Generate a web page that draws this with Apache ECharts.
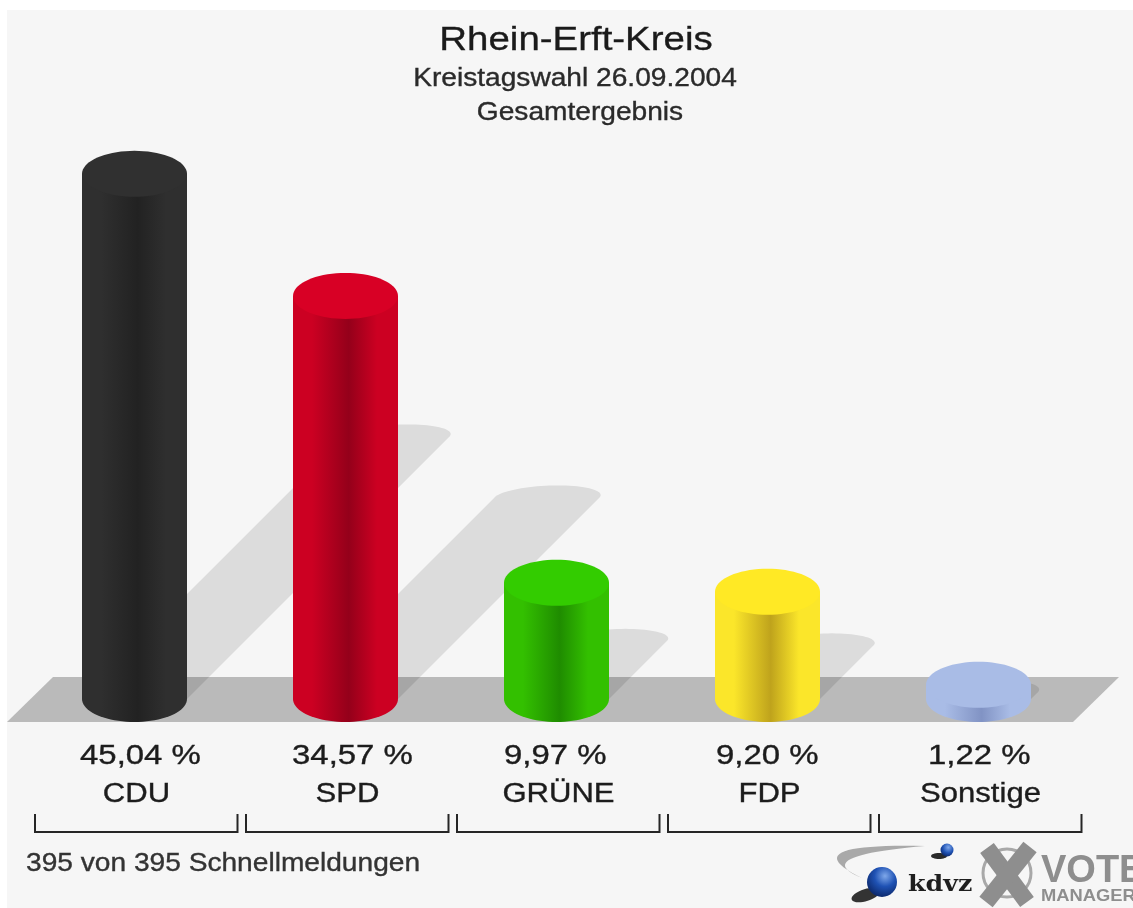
<!DOCTYPE html>
<html>
<head>
<meta charset="utf-8">
<style>
html,body{margin:0;padding:0;background:#fff;}
#c{width:1133px;height:908px;filter:blur(0.5px);}
</style>
<script src="https://cdn.jsdelivr.net/npm/echarts@6/dist/echarts.min.js"></script>
</head>
<body>
<div id="c"></div>
<script>
const categories = ['CDU', 'SPD', 'GRÜNE', 'FDP', 'Sonstige'];
const shares = [45.04, 34.57, 9.97, 9.20, 1.22];
const shareLabels = ['45,04 %', '34,57 %', '9,97 %', '9,20 %', '1,22 %'];
const topColors = ['#303030', '#d80025', '#33cc00', '#ffe925', '#a9bce6'];
const edgeColors = ['#2f2f2f', '#cc0022', '#33c000', '#fbe62a', '#a9bce6'];
const coreColors = ['#222222', '#94001a', '#1f8c00', '#bfa31c', '#8193c4'];
const titleText = 'Rhein-Erft-Kreis';
const subtitleText = 'Kreistagswahl 26.09.2004';
const scopeText = 'Gesamtergebnis';
const footerText = '395 von 395 Schnellmeldungen';

const FONT = '"Liberation Sans", Arial, sans-serif';
const HALF = 52.5, RY = 23, FOOT = 23;

function arc(cx, cy, a, b, from, to, n) {
  const pts = [];
  for (let i = 0; i <= n; i++) {
    const t = from + (to - from) * i / n;
    pts.push([cx + a * Math.cos(t), cy + b * Math.sin(t)]);
  }
  return pts;
}
function crescent(p0, p1, c1, c2) {
  const pts = [];
  for (let i = 0; i <= 24; i++) {
    const t = i / 24, u = 1 - t;
    pts.push([u*u*p0[0] + 2*u*t*c1[0] + t*t*p1[0], u*u*p0[1] + 2*u*t*c1[1] + t*t*p1[1]]);
  }
  for (let i = 24; i >= 0; i--) {
    const t = i / 24, u = 1 - t;
    pts.push([u*u*p0[0] + 2*u*t*c2[0] + t*t*p1[0], u*u*p0[1] + 2*u*t*c2[1] + t*t*p1[1]]);
  }
  return pts;
}
/* Stretched text element: the reference's lettering is wider than the installed face. */
function label(text, x, y, size, sx, fill, align, extra) {
  return Object.assign({
    type: 'text', scaleX: sx, x: x, y: y,
    style: { text: text, x: 0, y: 0, fill: fill, font: size + 'px ' + FONT, textAlign: align, textVerticalAlign: 'middle', stroke: fill, lineWidth: 0.35 }
  }, extra || {});
}

function renderShadow(params, api) {
  const top = api.coord([api.value(0), api.value(1)]);
  const base = api.coord([api.value(0), 0]);
  const s = (base[1] - top[1]) / 2;
  const cx = base[0] + s, cy = base[1] - s, b = 12, k = 0.9;
  const cap = [];
  for (let i = 0; i <= 40; i++) {
    const t = Math.PI * (1 - i / 40);
    cap.push([cx + HALF * Math.cos(t) + k * b * Math.sin(t), cy - b * Math.sin(t)]);
  }
  const pts = [[base[0] - HALF, base[1]]].concat(cap, [[base[0] + HALF, base[1]]]);
  return { type: 'polygon', shape: { points: pts }, style: { fill: 'rgba(0,0,0,0.105)' }, silent: true };
}

function renderCylinder(params, api) {
  const i = api.value(0);
  const top = api.coord([i, api.value(1)]);
  const base = api.coord([i, 0]);
  const x = base[0];
  const body = [[x - HALF, top[1]]].concat(
    [[x + HALF, top[1]]],
    arc(x, base[1], HALF, FOOT, 0, Math.PI, 40)
  );
  const fill = new echarts.graphic.LinearGradient(0, 0, 1, 0, [
    { offset: 0, color: edgeColors[i] },
    { offset: 0.18, color: edgeColors[i] },
    { offset: 0.53, color: coreColors[i] },
    { offset: 0.8, color: edgeColors[i] },
    { offset: 1, color: edgeColors[i] }
  ]);
  return {
    type: 'group',
    children: [
      { type: 'polygon', shape: { points: body }, style: { fill: fill } },
      { type: 'polygon', shape: { points: arc(x, top[1], HALF, RY, 0, Math.PI * 2, 72) }, style: { fill: topColors[i] } }
    ]
  };
}

function renderCaption(params, api) {
  const i = api.value(0);
  const x = api.coord([i, 0])[0];
  const L = x - 99.5, R = x + 103;
  return {
    type: 'group',
    children: [
      label(shareLabels[i], x - 54.5 + i, 757, 27, 1.22, '#1c1c1c', 'left'),
      label(categories[i], x + 2, 795, 27, 1.15, '#1c1c1c', 'center'),
      { type: 'polyline', shape: { points: [[L, 814], [L, 832], [R, 832], [R, 814]] }, style: { stroke: '#262626', lineWidth: 2, fill: 'none' } }
    ]
  };
}

const rows = shares.map((v, i) => [i, v]);
const chart = echarts.init(document.getElementById('c'), null, { renderer: 'canvas', width: 1133, height: 908 });
const GRAY = '#8e8e8e';

chart.setOption({
  animation: false,
  backgroundColor: '#ffffff',
  tooltip: { show: false },
  grid: { left: 29, top: 116, width: 1055, height: 583 },
  xAxis: { type: 'category', data: categories, show: false },
  yAxis: { type: 'value', min: 0, max: 50, show: false },
  graphic: { elements: [
    { type: 'rect', z: -10, shape: { x: 7, y: 10, width: 1126, height: 898 }, style: { fill: '#f6f6f6' }, silent: true },
    { type: 'polygon', z: -5, shape: { points: [[7, 722], [53, 677], [1119, 677], [1073, 722]] }, style: { fill: '#bababa' }, silent: true },
    label(titleText, 576, 41, 34, 1.13, '#1a1a1a', 'center', { z: 5 }),
    label(subtitleText, 575, 79, 25, 1.125, '#2a2a2a', 'center', { z: 5 }),
    label(scopeText, 580, 113, 25, 1.125, '#2a2a2a', 'center', { z: 5 }),
    label(footerText, 26, 864, 25, 1.125, '#333333', 'left', { z: 5 }),
    /* kdvz logo */
    { type: 'polygon', z: 5, shape: { points: crescent([925, 846], [862, 878], [790, 843], [808, 856]) }, style: { fill: '#a9a9a9' }, silent: true },
    { type: 'ellipse', z: 5, shape: { cx: 866, cy: 895, rx: 15, ry: 6 }, style: { fill: '#333333' }, rotation: 0.3, originX: 866, originY: 895, silent: true },
    { type: 'circle', z: 6, shape: { cx: 882, cy: 882, r: 15 }, style: { fill: new echarts.graphic.RadialGradient(0.6, 0.3, 0.7, [{ offset: 0, color: '#7fa8ea' }, { offset: 0.5, color: '#1f52b4' }, { offset: 1, color: '#0d2a6e' }]) }, silent: true },
    { type: 'ellipse', z: 5, shape: { cx: 939, cy: 856, rx: 8, ry: 3 }, style: { fill: '#2a2a2a' }, silent: true },
    { type: 'circle', z: 6, shape: { cx: 947, cy: 850, r: 6.5 }, style: { fill: new echarts.graphic.RadialGradient(0.6, 0.3, 0.7, [{ offset: 0, color: '#7fa8ea' }, { offset: 0.6, color: '#1f52b4' }, { offset: 1, color: '#0d2a6e' }]) }, silent: true },
    { type: 'text', z: 6, x: 908, y: 885, scaleX: 1.15, style: { text: 'kdvz', x: 0, y: 0, fill: '#1e1e1e', font: 'bold 22px "DejaVu Serif", serif', textAlign: 'left', textVerticalAlign: 'middle' } },
    /* Vote Manager logo */
    { type: 'circle', z: 5, shape: { cx: 1007, cy: 873, r: 24 }, style: { fill: 'none', stroke: '#a8a8a8', lineWidth: 3 }, silent: true },
    { type: 'line', z: 6, shape: { x1: 987, y1: 848, x2: 1027, y2: 902 }, style: { stroke: GRAY, lineWidth: 17 }, silent: true },
    { type: 'line', z: 6, shape: { x1: 1030, y1: 847, x2: 986, y2: 902 }, style: { stroke: GRAY, lineWidth: 17 }, silent: true },
    { type: 'text', z: 6, style: { text: 'VOTE', x: 1041, y: 872, fill: GRAY, font: 'bold 38px ' + FONT, textAlign: 'left', textVerticalAlign: 'middle' } },
    { type: 'text', z: 6, x: 1041, y: 896, scaleX: 1.08, style: { text: 'MANAGER', x: 0, y: 0, fill: GRAY, font: 'bold 17px ' + FONT, textAlign: 'left', textVerticalAlign: 'middle' } }
  ] },
  series: [
    { type: 'custom', name: 'shadow', z: 1, clip: false, silent: true, renderItem: renderShadow, encode: { x: 0, y: 1 }, data: rows },
    { type: 'custom', name: 'share', z: 3, clip: false, silent: true, renderItem: renderCylinder, encode: { x: 0, y: 1 }, data: rows },
    { type: 'custom', name: 'caption', z: 4, clip: false, silent: true, renderItem: renderCaption, encode: { x: 0, y: 1 }, data: rows }
  ]
});
</script>
</body>
</html>
